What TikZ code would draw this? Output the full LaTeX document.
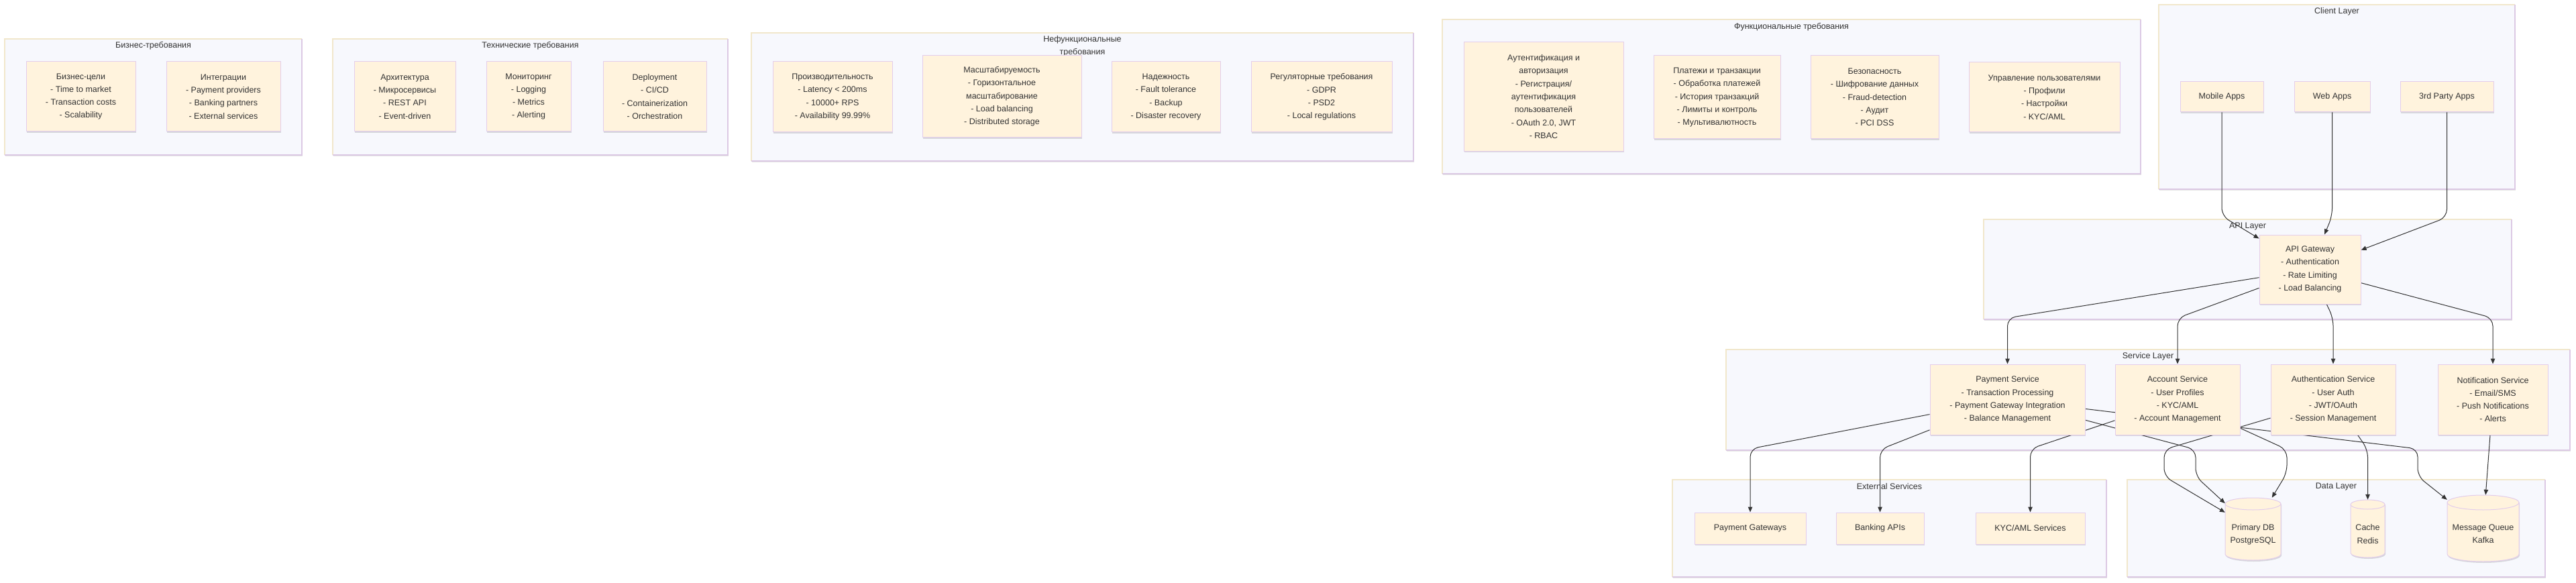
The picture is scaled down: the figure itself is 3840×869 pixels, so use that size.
\documentclass[tikz,border=0pt]{standalone}
\usepackage{fontspec}
\setmainfont{Liberation Sans}
\usetikzlibrary{arrows.meta,shadows}
\definecolor{clF}{HTML}{F7F8FD}
\definecolor{clB1}{HTML}{F1E7CB}
\definecolor{clB2}{HTML}{DCC9E4}
\definecolor{ndF}{HTML}{FFF3DD}
\definecolor{ndB}{HTML}{E3CDEB}
\definecolor{txt}{HTML}{333333}
\definecolor{edgeC}{HTML}{333333}
\pgfdeclarelayer{back}
\pgfdeclarelayer{bg}
\pgfdeclarelayer{edgelayer}
\pgfsetlayers{back,bg,edgelayer,main}
\newcommand\nf{\fontsize{12.5}{19.3}\selectfont}
\tikzset{
  nbox/.style={draw=ndB, fill=ndF, line width=1pt, text=txt, font=\nf, align=center, inner sep=0pt,
    drop shadow={shadow xshift=1pt, shadow yshift=-2pt, opacity=0.13, fill=black}},
  ctitle/.style={text=txt, font=\nf, align=center, inner sep=0pt},
  dtext/.style={text=txt, font=\nf, align=center, inner sep=0pt},
  edge/.style={draw=edgeC, line width=1pt, rounded corners=12pt, -{Triangle[length=8pt,width=6.5pt]}},
}
\newcommand\clusterbox[4]{%
  \fill[clF, drop shadow={shadow xshift=1pt, shadow yshift=-2pt, opacity=0.10, fill=black}] (#1,#2) rectangle (#3,#4);
  \draw[clB1, line width=1.2pt] (#1,#4) -- (#1,#2) -- (#3,#2);
  \draw[clB2, line width=1.2pt] (#3,#2) -- (#3,#4) -- (#1,#4);
}
\newcommand\dbcyl[7]{%
  \node[inner sep=0pt, minimum width={2*#4*1pt}, minimum height={2*#5*1pt}] (#1) at (#2,#3) {};
  \path[fill=ndF, draw=ndB, line width=1pt, drop shadow={shadow xshift=1pt, shadow yshift=-2pt, opacity=0.13, fill=black}]
    ({#2-#4},{#3-#5+#6}) -- ({#2-#4},{#3+#5-#6})
    arc[start angle=180, end angle=360, x radius=#4pt, y radius=#6pt]
    -- ({#2+#4},{#3-#5+#6})
    arc[start angle=0, end angle=180, x radius=#4pt, y radius=#6pt] -- cycle;
  \draw[ndB, line width=1pt] ({#2-#4},{#3-#5+#6}) arc[start angle=180, end angle=360, x radius=#4pt, y radius=#6pt];
  \node[dtext] (#1t) at (#2,{#3+8}) {#7};
}
\begin{document}
\begin{tikzpicture}[x=1pt,y=-1pt]
\begin{pgfonlayer}{back}
\fill[white] (0,0) rectangle (3840,869);
\end{pgfonlayer}
\useasboundingbox (0,0) rectangle (3840,869);

\begin{pgfonlayer}{bg}
\clusterbox{7}{58}{450}{231}
\node[ctitle] (tt1) at (228.5,68) {Бизнес-требования};
\clusterbox{496}{58}{1085}{231}
\node[ctitle] (tt2) at (790.5,68) {Технические требования};
\clusterbox{1120}{49}{2107}{240}
\node[ctitle] (tt3) at (1613.5,68.5) {Нефункциональные\\требования};
\clusterbox{2150}{29}{3191}{259}
\node[ctitle] (tt4) at (2670.5,40) {Функциональные требования};
\clusterbox{3218}{7}{3749}{282}
\node[ctitle] (tt5) at (3483.5,17) {Client Layer};
\clusterbox{2957}{327}{3744}{476}
\node[ctitle] (tt6) at (3350.5,337) {API Layer};
\clusterbox{2573}{521}{3831}{671}
\node[ctitle] (tt7) at (3202,531) {Service Layer};
\clusterbox{2493}{715}{3140}{860}
\node[ctitle] (tt8) at (2816.5,725) {External Services};
\clusterbox{3171}{715}{3794}{860}
\node[ctitle] (tt9) at (3482.5,725) {Data Layer};
\end{pgfonlayer}

% Business
\node[nbox, minimum width=163pt, minimum height=104pt] (b1) at (120.5,144) {Бизнес-цели\\- Time to market\\- Transaction costs\\- Scalability};
\node[nbox, minimum width=170pt, minimum height=104pt] (b2) at (333,144) {Интеграции\\- Payment providers\\- Banking partners\\- External services};
% Technical
\node[nbox, minimum width=151pt, minimum height=104pt] (t1) at (603.5,144) {Архитектура\\- Микросервисы\\- REST API\\- Event-driven};
\node[nbox, minimum width=126pt, minimum height=104pt] (t2) at (788,144) {Мониторинг\\- Logging\\- Metrics\\- Alerting};
\node[nbox, minimum width=154pt, minimum height=104pt] (t3) at (976,144) {Deployment\\- CI/CD\\- Containerization\\- Orchestration};
% Non-functional
\node[nbox, minimum width=178pt, minimum height=105pt] (n1) at (1241,144.5) {Производительность\\- Latency < 200ms\\- 10000+ RPS\\- Availability 99.99\%};
\node[nbox, minimum width=237pt, minimum height=122pt] (n2) at (1493.5,144) {Масштабируемость\\- Горизонтальное\\масштабирование\\- Load balancing\\- Distributed storage};
\node[nbox, minimum width=162pt, minimum height=105pt] (n3) at (1738,144.5) {Надежность\\- Fault tolerance\\- Backup\\- Disaster recovery};
\node[nbox, minimum width=210pt, minimum height=105pt] (n4) at (1970,144.5) {Регуляторные требования\\- GDPR\\- PSD2\\- Local regulations};
% Functional
\node[nbox, minimum width=238pt, minimum height=162pt] (f1) at (2301,144) {Аутентификация и\\авторизация\\- Регистрация/\\аутентификация\\пользователей\\- OAuth 2.0, JWT\\- RBAC};
\node[nbox, minimum width=189pt, minimum height=124pt] (f2) at (2559.5,145) {Платежи и транзакции\\- Обработка платежей\\- История транзакций\\- Лимиты и контроль\\- Мультивалютность};
\node[nbox, minimum width=191pt, minimum height=124pt] (f3) at (2794.5,145) {Безопасность\\- Шифрование данных\\- Fraud-detection\\- Аудит\\- PCI DSS};
\node[nbox, minimum width=225pt, minimum height=104pt] (f4) at (3047.5,145) {Управление пользователями\\- Профили\\- Настройки\\- KYC/AML};
% Client layer
\node[nbox, minimum width=124pt, minimum height=45pt] (c1) at (3312,144.5) {Mobile Apps};
\node[nbox, minimum width=113pt, minimum height=45pt] (c2) at (3476.5,144.5) {Web Apps};
\node[nbox, minimum width=139pt, minimum height=45pt] (c3) at (3647.5,144.5) {3rd Party Apps};
% API
\node[nbox, minimum width=151pt, minimum height=103pt] (api) at (3443.5,401.5) {API Gateway\\- Authentication\\- Rate Limiting\\- Load Balancing};
% Services
\node[nbox, minimum width=231pt, minimum height=105pt] (s1) at (2992.5,595.5) {Payment Service\\- Transaction Processing\\- Payment Gateway Integration\\- Balance Management};
\node[nbox, minimum width=186pt, minimum height=105pt] (s2) at (3246,595.5) {Account Service\\- User Profiles\\- KYC/AML\\- Account Management};
\node[nbox, minimum width=186pt, minimum height=105pt] (s3) at (3478,595.5) {Authentication Service\\- User Auth\\- JWT/OAuth\\- Session Management};
\node[nbox, minimum width=164pt, minimum height=105pt] (s4) at (3716,595.5) {Notification Service\\- Email/SMS\\- Push Notifications\\- Alerts};
% External
\node[nbox, minimum width=166pt, minimum height=47pt] (e1) at (2609,787.5) {Payment Gateways};
\node[nbox, minimum width=131pt, minimum height=47pt] (e2) at (2802.5,787.5) {Banking APIs};
\node[nbox, minimum width=163pt, minimum height=47pt] (e3) at (3026.5,787.5) {KYC/AML Services};
% Data
\dbcyl{d1}{3358.5}{788.5}{41.5}{46.5}{9}{Primary DB\\PostgreSQL}
\dbcyl{d2}{3529.5}{788}{25.5}{43}{7}{Cache\\Redis}
\dbcyl{d3}{3701.5}{787.5}{53.5}{49.5}{11}{Message Queue\\Kafka}

\begin{pgfonlayer}{edgelayer}
\draw[edge] (c1) -- (3312,322) -- (api);
\draw[edge] (c2) -- (3476.5,322) -- (api);
\draw[edge] (c3) -- (3647.5,324) -- (api);
\draw[edge] (api) -- (2992.5,474) -- (s1);
\draw[edge] (api) -- (3246,474) -- (s2);
\draw[edge] (api) -- (3478,474) -- (s3);
\draw[edge] (api) -- (3716,474) -- (s4);
\draw[edge] (s1) -- (2609,669) -- (e1);
\draw[edge] (s1) -- (2802.5,670) -- (e2);
\draw[edge] (s2) -- (3026.5,669) -- (e3);
\draw[edge] (s1) -- (3273,670) -- (3273,710) -- (d1);
\draw[edge] (s3) -- (3226,670) -- (3226,710) -- (d1);
\draw[edge] (s2) -- (3409,670) -- (3409,705) -- (d1);
\draw[edge] (s3) -- (3529.5,670) -- (d2);
\draw[edge] (s1) -- (3604,669) -- (3604,710) -- (d3);
\draw[edge] (s4) -- (d3);
\end{pgfonlayer}
\end{tikzpicture}
\end{document}
